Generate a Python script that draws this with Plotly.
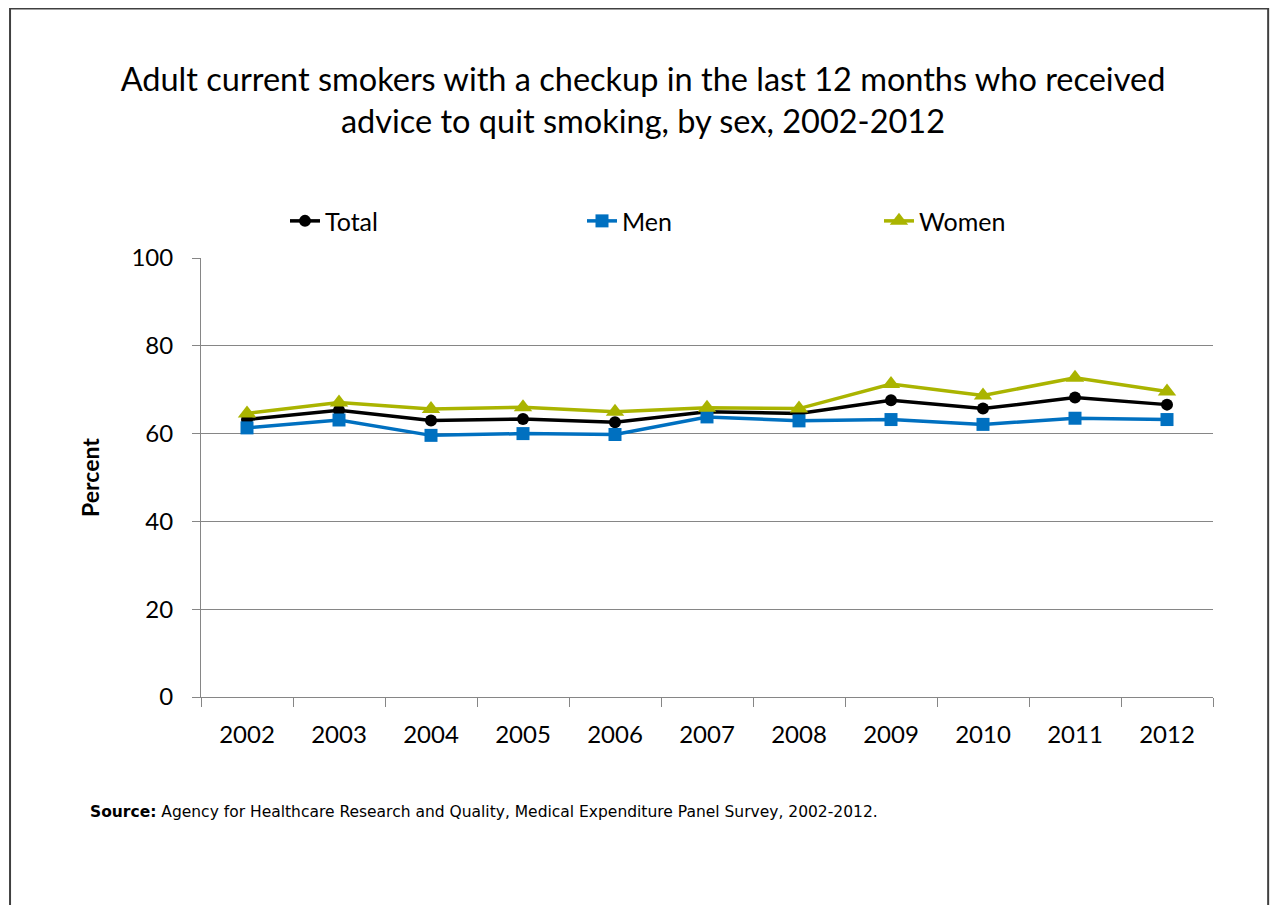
import plotly.graph_objects as go

years = ["2002", "2003", "2004", "2005", "2006", "2007", "2008", "2009", "2010", "2011", "2012"]
total = [63.2, 65.3, 63.0, 63.3, 62.6, 65.0, 64.6, 67.6, 65.7, 68.2, 66.6]
men = [61.3, 63.1, 59.6, 60.0, 59.8, 63.8, 62.9, 63.2, 62.1, 63.5, 63.2]
women = [64.6, 67.1, 65.6, 66.0, 65.0, 65.9, 65.7, 71.3, 68.7, 72.7, 69.6]

title_text = ("Adult current smokers with a checkup in the last 12 months who received<br>"
              "advice to quit smoking, by sex, 2002-2012")
source_text = ("<b>Source:</b> Agency for Healthcare Research and Quality, "
               "Medical Expenditure Panel Survey, 2002-2012.")

font_main = "Lato, Open Sans, sans-serif"

fig = go.Figure()

fig.add_trace(go.Scatter(
    x=years, y=total, name="Total", mode="lines+markers",
    line=dict(color="black", width=3.5),
    marker=dict(symbol="circle", size=12, color="black")
))
fig.add_trace(go.Scatter(
    x=years, y=men, name="Men", mode="lines+markers",
    line=dict(color="#0070C0", width=3.5),
    marker=dict(symbol="square", size=13, color="#0070C0")
))
fig.add_trace(go.Scatter(
    x=years, y=women, name="Women", mode="lines+markers",
    line=dict(color="#AAB400", width=3.5),
    marker=dict(symbol="triangle-up", size=16, color="#AAB400")
))

# page body adds an 8px margin, so the figure is kept smaller than the window
fig.update_layout(
    width=1270, height=897,
    margin=dict(l=193, r=65, t=250, b=208),
    paper_bgcolor="white", plot_bgcolor="white",
    font=dict(family=font_main, size=24, color="black"),
    title=dict(text=title_text, x=0.5, xanchor="center", y=1 - 83 / 897, yanchor="top",
               font=dict(family=font_main, size=32.5, color="black")),
    showlegend=True,
    legend=dict(orientation="h", x=0.083, xanchor="left", y=1.084, yanchor="middle",
                entrywidth=252, font=dict(size=25), traceorder="normal",
                bgcolor="rgba(0,0,0,0)"),
    xaxis=dict(
        type="category", range=[-0.5, 10.5],
        showline=True, linecolor="#868686", linewidth=1,
        ticks="outside", tickson="boundaries", ticklen=9, tickcolor="#868686",
        ticklabelstandoff=16,
        showgrid=False, tickfont=dict(size=24), fixedrange=True
    ),
    yaxis=dict(
        range=[0, 100], dtick=20,
        showline=True, linecolor="#868686", linewidth=1,
        ticks="outside", ticklen=8, tickcolor="#868686",
        ticklabelstandoff=14,
        showgrid=True, gridcolor="#868686", gridwidth=1,
        zeroline=False, tickfont=dict(size=24),
        title=dict(text="<b>Percent</b>", font=dict(size=23), standoff=25)
    ),
    shapes=[dict(type="rect", xref="paper", yref="paper",
                 x0=-0.1887, x1=1.0545, y0=-0.6, y1=1.5683,
                 line=dict(color="#404040", width=2), layer="below")],
    annotations=[dict(text=source_text, xref="paper", yref="paper",
                      x=-0.1117, y=-0.262, xanchor="left", yanchor="middle",
                      showarrow=False,
                      font=dict(family="DejaVu Sans, sans-serif", size=15.5, color="black"))]
)

fig.write_html("out.html")
